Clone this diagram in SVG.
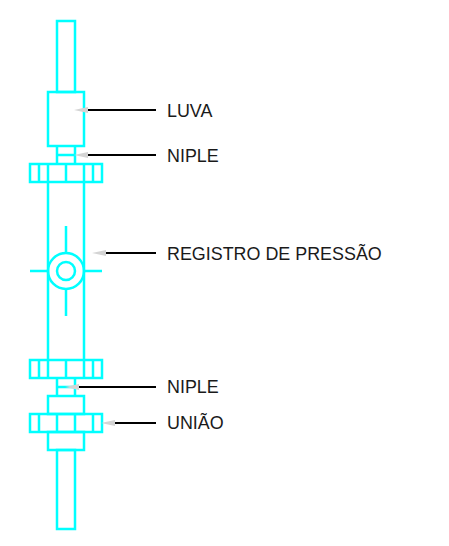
<svg xmlns="http://www.w3.org/2000/svg" width="449" height="546" viewBox="0 0 449 546">
<style>
.p{fill:none;stroke:#00ffff;stroke-width:2.5}
.l{fill:none;stroke:#000;stroke-width:2}
.h{fill:#d4d4d4;stroke:none}
text{font-family:"Liberation Sans",Arial,sans-serif;font-size:17.9px;fill:#1a1a1a}
</style>
<defs>
<polygon id="ah" class="h" points="0,0 14,-3 14,3"/>
</defs>
<rect width="449" height="546" fill="#fff"/>
<g id="valve-assembly">
<g id="pipe-top"><rect class="p" x="57" y="21" width="18" height="71"/></g>
<g id="luva"><rect class="p" x="48" y="92" width="36" height="54"/></g>
<g id="niple-top"><path class="p" d="M57 146V164M75 146V164M57 155H75"/></g>
<g id="flange-top"><rect class="p" x="30" y="164" width="72" height="18"/><path class="p" d="M39 164V182M48 164V182M66 164V182M84 164V182M93 164V182"/></g>
<g id="registro"><path class="p" d="M48 182V360M84 182V360M66 226V253M66 289V316M30 271H48M84 271H102"/><circle class="p" cx="66" cy="271" r="18"/><circle class="p" cx="66" cy="271" r="9"/></g>
<g id="flange-bottom"><rect class="p" x="30" y="360" width="72" height="18"/><path class="p" d="M39 360V378M48 360V378M66 360V378M84 360V378M93 360V378"/></g>
<g id="niple-bottom"><path class="p" d="M57 378V396M75 378V396M57 387H75"/></g>
<g id="uniao"><rect class="p" x="48" y="396" width="36" height="18"/><rect class="p" x="30" y="414" width="72" height="18"/><path class="p" d="M39 414V432M57 414V432M75 414V432M93 414V432"/><rect class="p" x="48" y="432" width="36" height="18"/></g>
<g id="pipe-bottom"><rect class="p" x="57" y="450" width="18" height="79"/></g>
</g>
<g id="connectors">
<path class="l" d="M87 110H156M87 155H156M105 253H156M78 387H156M114 423H156"/>
<use href="#ah" x="74" y="110"/>
<use href="#ah" x="74" y="155"/>
<use href="#ah" x="92" y="253"/>
<use href="#ah" x="65" y="387"/>
<use href="#ah" x="101" y="423"/>
</g>
<g id="labels">
<text x="167" y="117">LUVA</text>
<text x="167" y="162">NIPLE</text>
<text x="167" y="260">REGISTRO DE PRESSÃO</text>
<text x="167" y="393">NIPLE</text>
<text x="167" y="429">UNIÃO</text>
</g>
</svg>
